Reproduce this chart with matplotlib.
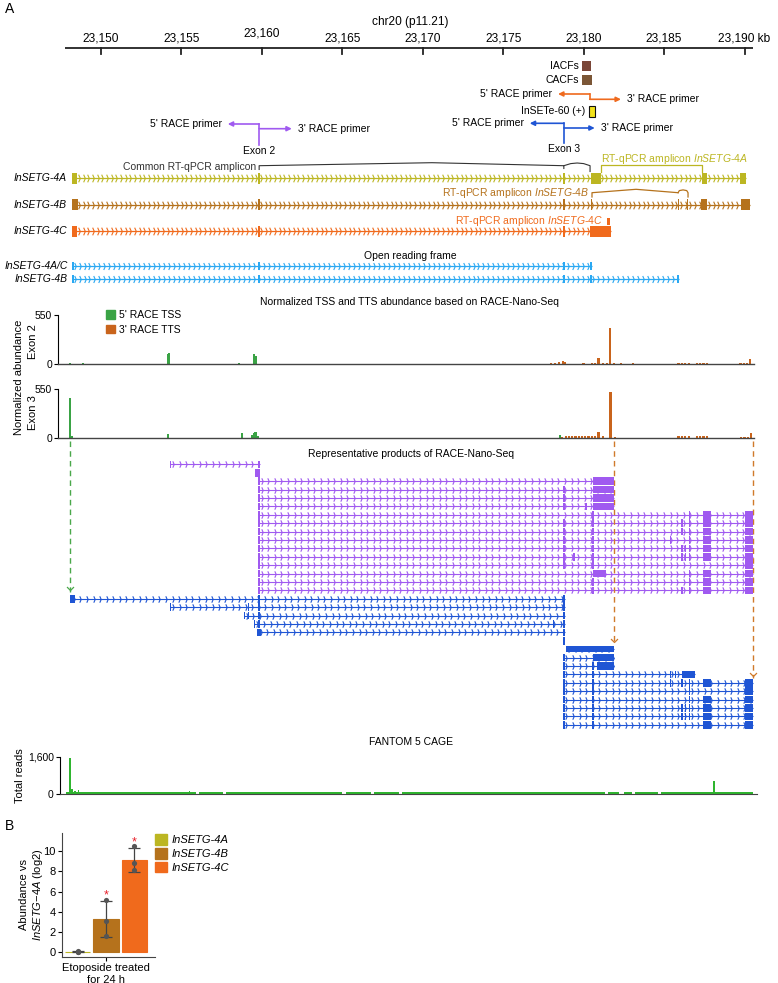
import numpy as np
import matplotlib.pyplot as plt
from matplotlib.path import Path
from matplotlib.patches import Rectangle, Patch

W, H = 778, 983

plt.rcParams.update({
    "font.family": "Liberation Sans",
    "font.size": 7.5,
    "mathtext.fontset": "custom",
    "mathtext.rm": "Liberation Sans",
    "mathtext.it": "Liberation Sans:italic",
    "axes.linewidth": 0.8,
})

# ---------------- data ----------------
kb_ticks = [23150, 23155, 23160, 23165, 23170, 23175, 23180, 23185, 23190]
kb_tick_labels = ["23,150", "23,155", "23,160", "23,165", "23,170", "23,175",
                  "23,180", "23,185", "23,190 kb"]

EX2 = (23159.78, 23159.88)
EX3 = (23178.72, 23178.82)
E4 = (23180.55, 23180.65)
E5a = (23185.37, 23185.45)
E5b = (23186.08, 23186.16)
E5m = (23186.30, 23186.38)
E5c = (23186.53, 23186.61)
E6 = (23187.42, 23187.90)
E7 = (23190.00, 23190.53)

iso_names = ["InSETG-4A", "InSETG-4B", "InSETG-4C"]
iso_4a = [(23148.20, 23148.50), EX2, EX3, (23180.45, 23181.08), (23187.36, 23187.68), (23189.74, 23190.10)]
iso_4b = [(23148.20, 23148.58), EX2, EX3, (23180.45, 23180.55), (23185.84, 23185.92),
          (23186.40, 23186.50), (23187.28, 23187.64), (23189.78, 23190.34)]
iso_4c = [(23148.20, 23148.50), EX2, EX3, (23180.42, 23181.72)]

orf_names = ["InSETG-4A/C", "InSETG-4B"]
orf_4ac = [(23148.20, 23148.30), EX2, EX3, (23180.40, 23180.50)]
orf_4b = [(23148.20, 23148.30), EX2, EX3, (23180.40, 23180.50), (23185.82, 23185.90)]

# primers: exon 2 (purple), exon 3 (blue), InSETe-60 (orange)
primer_x = [23159.83, 23178.77, 23180.38]
primer_5tip = [23157.88, 23176.65, 23178.41]
primer_3tip = [23161.86, 23180.69, 23182.32]

feat_names = ["IACFs", "CACFs", "InSETe-60 (+)"]
feat_start = [23179.92, 23179.92, 23180.32]
feat_end = [23180.46, 23180.52, 23180.71]

P_BIG = (23180.58, 23181.90)
purple_reads = [
    [(23154.28, 23154.36), EX2],
    [(23159.60, 23159.86)],
    [EX2, P_BIG],
    [EX2, EX3, P_BIG],
    [EX2, EX3, P_BIG],
    [EX2, EX3, (23180.10, 23180.22), P_BIG],
    [EX2, E4, E5c, E6, E7],
    [EX2, EX3, E4, E5b, E5c, E6, E7],
    [EX2, EX3, E4, E5b, E5c, E6, E7],
    [EX2, EX3, E4, E5a, E5c, E6, E7],
    [EX2, EX3, E4, E5b, E5m, E5c, E6, E7],
    [EX2, EX3, (23179.33, 23179.47), E4, E5b, E5m, E5c, E6, E7],
    [EX2, EX3, E4, E7],
    [EX2, (23180.58, 23181.40), E5c, E6, E7],
    [EX2, E4, E5c, E6, E7],
    [EX2, E4, E5b, E5c, E6, E7],
]

blue_reads = [
    [(23148.10, 23148.40), EX2, EX3],
    [(23154.28, 23154.34), (23159.15, 23159.22), EX2, EX3],
    [(23158.86, 23158.92), (23159.15, 23159.22), EX2, EX3],
    [(23159.52, 23159.58), EX2, (23178.10, 23178.16), EX3],
    [(23159.72, 23159.95), EX3],
    [EX3],
    [(23178.90, 23181.91)],
    [EX3, (23180.58, 23181.91)],
    [EX3, E4, (23180.83, 23181.91)],
    [EX3, E4, E5a, (23185.68, 23185.76), (23186.11, 23186.95)],
    [EX3, E4, E5a, E5b, E5c, E6, E7],
    [EX3, E4, E5c, E7],
    [EX3, E4, E5c, E6, E7],
    [EX3, E4, E5b, E5m, E5c, E6, E7],
    [EX3, E4, E5b, E5m, E5c, E6, E7],
    [EX3, E4, E6, E7],
]

# normalized abundance (RACE-Nano-Seq)
tss_e2_pos = [23148.07, 23148.88, 23154.15, 23154.25, 23158.58, 23159.50, 23159.60]
tss_e2_val = [8, 6, 110, 125, 12, 110, 90]
tts_e2_pos = [23177.95, 23178.20, 23178.45, 23178.70, 23178.85, 23180.00, 23180.50, 23180.70,
              23180.93, 23181.20, 23181.45, 23181.64, 23181.90, 23182.32, 23183.05, 23185.90,
              23186.10, 23186.30, 23186.55, 23187.05, 23187.25, 23187.45, 23187.65, 23189.75,
              23189.95, 23190.15, 23190.34]
tts_e2_val = [10, 15, 20, 35, 20, 8, 12, 12, 64, 12, 12, 407, 10, 8, 8, 14, 14, 14, 14, 14,
              14, 14, 14, 12, 12, 14, 56]
tss_e3_pos = [23148.07, 23148.22, 23154.18, 23158.75, 23159.37, 23159.50, 23159.60, 23159.76, 23178.53]
tss_e3_val = [455, 15, 37, 49, 30, 55, 68, 25, 30]
tts_e3_pos = [23178.65, 23178.90, 23179.10, 23179.30, 23179.50, 23179.70, 23179.90, 23180.10,
              23180.30, 23180.50, 23180.70, 23180.93, 23181.20, 23181.67, 23181.95, 23185.90,
              23186.10, 23186.30, 23186.55, 23187.05, 23187.25, 23187.45, 23187.65, 23189.80,
              23190.00, 23190.20, 23190.40]
tts_e3_val = [10, 15, 20, 22, 22, 20, 18, 15, 20, 20, 22, 68, 15, 523, 10, 14, 14, 14, 14, 14,
              14, 14, 14, 12, 12, 12, 49]

# FANTOM 5 CAGE
cage_pos = [23148.07, 23148.22, 23148.38, 23148.60, 23148.90, 23152.64, 23155.50, 23158.00,
            23163.10, 23188.10, 23188.22]
cage_val = [1550, 200, 120, 180, 60, 90, 150, 50, 40, 540, 60]
cage_bg_start = [23147.8, 23156.1, 23157.8, 23165.2, 23167.0, 23168.7, 23181.5, 23182.5, 23183.2, 23184.8]
cage_bg_end = [23155.9, 23157.6, 23165.0, 23166.8, 23168.5, 23181.3, 23182.2, 23183.0, 23184.6, 23190.5]
cage_bg_val = [70, 70, 70, 70, 70, 70, 70, 70, 70, 70]

# panel B
b_names = ["InSETG-4A", "InSETG-4B", "InSETG-4C"]
b_reps = [[0.04, -0.03, 0.0], [5.15, 3.10, 1.55], [10.50, 8.83, 8.10]]
b_signif = [False, True, True]

# ---------------- style ----------------
C4A, C4B, C4C = "#bcb622", "#b5721c", "#f06a1c"
PURPLE, BLUE, ORF = "#a05af0", "#1f55d4", "#2aa8f2"
GREEN, TTS, CAGE = "#3aa345", "#c9641c", "#2fb52f"

CHEV = Path([(-0.22, 1), (0.22, 0), (-0.22, -1)], [Path.MOVETO, Path.LINETO, Path.LINETO])


def px2kb(px):
    return 23150 + (px - 101) / 16.0875


def fig_rect(l, t, r, b):
    return [l / W, 1 - b / H, (r - l) / W, (b - t) / H]


fig = plt.figure(figsize=(W / 100, H / 100), dpi=100)
ax = fig.add_axes([0, 0, 1, 1])
ax.set_xlim(px2kb(0), px2kb(W))
ax.set_ylim(H, 0)
ax.axis("off")


def draw_model(y, exons, color, h, step, ms, lw=0.9):
    s = min(e[0] for e in exons)
    t = max(e[1] for e in exons)
    if t - s > 0.3:
        ax.plot([s, t], [y, y], color=color, lw=lw, solid_capstyle="butt", zorder=2)
        marks = np.arange(s + step / 2, t - step / 4, step)
        ax.plot(marks, np.full(len(marks), y), ls="none", marker=CHEV, ms=ms, mew=0.8,
                mfc="none", mec=color, zorder=2)
    for a, b in exons:
        ax.add_patch(Rectangle((a, y - h / 2), max(b - a, 0.07), h, facecolor=color,
                               edgecolor="none", zorder=3))


# panel letters
fig.text(5 / W, 1 - 9 / H, "A", fontsize=10, va="center")
fig.text(5 / W, 1 - 826 / H, "B", fontsize=10, va="center")

# genomic axis
ax.plot([px2kb(65), px2kb(753)], [47.7, 47.7], color="#222", lw=1.3, solid_capstyle="butt")
label_dy = [0, 0, -5, 0, 0, 0, 0, 0, 0]
for t, lab, dy in zip(kb_ticks, kb_tick_labels, label_dy):
    ax.plot([t, t], [47.7, 53.5], color="#222", lw=1.3)
    ax.text(t, 38.5 + dy, lab, ha="center", va="center", fontsize=8.6)
ax.text(px2kb(410), 22.5, "chr20 (p11.21)", ha="center", va="center", fontsize=8.6)

# features
feat_rows = [(61, 71), (75, 85), (106, 117)]
feat_fc = ["#7a4638", "#7b5636", "#f2e21a"]
feat_ec = ["none", "none", "#111"]
for name, a, b, (y0, y1), fc, ec in zip(feat_names, feat_start, feat_end, feat_rows, feat_fc, feat_ec):
    ax.add_patch(Rectangle((a, y0), b - a, y1 - y0, facecolor=fc, edgecolor=ec, lw=0.8))
    ax.text(a - 0.2, (y0 + y1) / 2, name, ha="right", va="center")

# primers
primer_rows = [(124, 128.7, 145), (123.3, 128, 143), (94, 99.3, 99.3)]
primer_cols = [PURPLE, BLUE, "#ef6a1e"]
primer_exon = ["Exon 2", "Exon 3", None]
for x, t5, t3, (y5, y3, yb), c, ex in zip(primer_x, primer_5tip, primer_3tip, primer_rows,
                                           primer_cols, primer_exon):
    ax.plot([x, x], [y5, yb], color=c, lw=1.2)
    ax.annotate("", xy=(t5, y5), xytext=(x, y5),
                arrowprops=dict(arrowstyle="-|>", color=c, lw=1.2, mutation_scale=7,
                                shrinkA=0, shrinkB=0))
    ax.annotate("", xy=(t3, y3), xytext=(x, y3),
                arrowprops=dict(arrowstyle="-|>", color=c, lw=1.2, mutation_scale=7,
                                shrinkA=0, shrinkB=0))
    ax.text(t5 - 0.37, y5, "5' RACE primer", ha="right", va="center")
    ax.text(t3 + 0.37, y3, "3' RACE primer", ha="left", va="center")
    if ex:
        ax.text(x, yb + 6, ex, ha="center", va="center")

# isoforms
iso_y = [178.3, 204.5, 231]
for name, y, exons, c in zip(iso_names, iso_y, [iso_4a, iso_4b, iso_4c], [C4A, C4B, C4C]):
    draw_model(y, exons, c, 11, 0.29, 5.5)
    ax.text(px2kb(67), y, name, ha="right", va="center", style="italic")

# amplicons
gray = "#333"
ax.plot([EX2[0] + 0.05] * 2 + [23170.57, 23178.77, 23178.77], [169.5, 165.7, 162.7, 165.7, 168.5],
        color=gray, lw=0.8)
ax.plot([23178.77, 23179.2, 23179.6, 23180.0, 23180.4, 23180.4], [165.7, 163.6, 163.0, 163.6, 165.7, 171.5],
        color=gray, lw=0.8)
ax.text(px2kb(256), 166.5, "Common RT-qPCR amplicon", ha="right", va="center", color=gray)
ax.plot([23181.08, 23181.08, 23187.36, 23187.36], [171.5, 165.3, 165.3, 171.5], color=C4A, lw=0.9)
ax.text(px2kb(601), 159, r"RT-qPCR amplicon $\mathit{InSETG}$-$\mathit{4A}$", ha="left",
        va="center", color=C4A)
ax.plot([23180.52, 23180.52, 23183.26, 23185.87], [197, 192.7, 189.3, 192.7], color=C4B, lw=0.9)
ax.plot([23185.87, 23185.95, 23186.18, 23186.41, 23186.49, 23186.49],
        [192.7, 190.6, 189.9, 190.6, 192.7, 197], color=C4B, lw=0.9)
ax.text(px2kb(588.5), 193.5, r"RT-qPCR amplicon $\mathit{InSETG}$-$\mathit{4B}$", ha="right",
        va="center", color=C4B)
ax.add_patch(Rectangle((23181.45, 218), 0.19, 7, facecolor=C4C, edgecolor="none"))
ax.text(px2kb(603), 221, r"RT-qPCR amplicon $\mathit{InSETG}$-$\mathit{4C}$", ha="right",
        va="center", color=C4C)

# open reading frame
ax.text(px2kb(410), 255.7, "Open reading frame", ha="center", va="center")
for name, y, exons in zip(orf_names, [266, 279.3], [orf_4ac, orf_4b]):
    draw_model(y, exons, ORF, 8, 0.31, 5.0)
    ax.text(px2kb(67.5), y, name, ha="right", va="center", style="italic")

ax.text(px2kb(410), 302, "Normalized TSS and TTS abundance based on RACE-Nano-Seq",
        ha="center", va="center")

# RACE products
ax.text(px2kb(411), 454, "Representative products of RACE-Nano-Seq", ha="center", va="center")
read_y0, read_dy = 464.3, 8.4
for i, exons in enumerate(purple_reads + blue_reads):
    c = PURPLE if i < len(purple_reads) else BLUE
    h = 6.7 if len(exons) == 1 and exons[0][1] - exons[0][0] > 2 else 7.6
    draw_model(read_y0 + i * read_dy, exons, c, h, 0.41, 4.6, lw=0.8)

# dashed guide arrows (TSS / TTS)
guide_x = [tss_e3_pos[0], 23181.91, 23190.53]
guide_end = [591.5, 643.5, 677.5]
guide_col = ["#4aa84a", "#d07a2a", "#d07a2a"]
VEE = Path([(-1, 1), (0, 0), (1, 1)], [Path.MOVETO, Path.LINETO, Path.LINETO])
for x, ye, c in zip(guide_x, guide_end, guide_col):
    ax.plot([x, x], [441, ye], color=c, lw=1.0, ls=(0, (4, 3)))
    ax.plot([x], [ye - 2], marker=VEE, ms=5, mew=0.9, mec=c, mfc="none", ls="none")

# abundance panels
xl = (px2kb(58.3), px2kb(754))


def track_axes(rect, ymax, ylab):
    a = fig.add_axes(rect)
    a.set_xlim(*xl)
    a.set_ylim(0, ymax)
    a.set_yticks([0, ymax])
    a.set_yticklabels(["0", ylab])
    a.set_xticks([])
    for s in ["top", "right"]:
        a.spines[s].set_visible(False)
    a.spines["bottom"].set_color("#444")
    a.spines["bottom"].set_linewidth(1.0)
    a.tick_params(axis="y", length=3, width=0.8, pad=1.5, labelsize=7.5)
    a.patch.set_alpha(0)
    return a


ab1 = track_axes(fig_rect(58.3, 315, 754, 364), 550, "550")
ab1.bar(tss_e2_pos, tss_e2_val, width=0.14, color=GREEN, lw=0)
ab1.bar(tts_e2_pos, tts_e2_val, width=0.14, color=TTS, lw=0)
ab2 = track_axes(fig_rect(58.3, 389.3, 754, 437.7), 550, "550")
ab2.bar(tss_e3_pos, tss_e3_val, width=0.14, color=GREEN, lw=0)
ab2.bar(tts_e3_pos, tts_e3_val, width=0.14, color=TTS, lw=0)
ab1.legend(handles=[Patch(color=GREEN), Patch(color=TTS)], labels=["5' RACE TSS", "3' RACE TTS"],
           loc="upper left", bbox_to_anchor=(106 / W, 1 - 310 / H), bbox_transform=fig.transFigure,
           frameon=False, handlelength=0.9, handleheight=0.9, handletextpad=0.35,
           labelspacing=0.45, borderaxespad=0, borderpad=0, fontsize=7.5)
fig.text(19 / W, 1 - 377 / H, "Normalized abundance", rotation=90, ha="center", va="center", fontsize=8)
fig.text(33 / W, 1 - 341.7 / H, "Exon 2", rotation=90, ha="center", va="center", fontsize=8)
fig.text(33 / W, 1 - 413 / H, "Exon 3", rotation=90, ha="center", va="center", fontsize=8)

# CAGE panel
ax.text(px2kb(411), 742.3, "FANTOM 5 CAGE", ha="center", va="center")
cg = fig.add_axes(fig_rect(60, 756.7, 757, 794))
cg.set_xlim(px2kb(60), px2kb(757))
cg.set_ylim(0, 1600)
cg.set_yticks([0, 1600])
cg.set_yticklabels(["0", "1,600"])
cg.set_xticks([])
for s in ["top", "right"]:
    cg.spines[s].set_visible(False)
cg.spines["bottom"].set_color("#444")
cg.tick_params(axis="y", length=3, width=0.8, pad=1.5, labelsize=7.5)
cg.patch.set_alpha(0)
cg.bar(cage_bg_start, cage_bg_val, width=np.array(cage_bg_end) - np.array(cage_bg_start),
       align="edge", color=CAGE, lw=0)
cg.bar(cage_pos, cage_val, width=0.12, color=CAGE, lw=0)
fig.text(20 / W, 1 - 776 / H, "Total reads", rotation=90, ha="center", va="center", fontsize=8)

# panel B
bx = fig.add_axes(fig_rect(62, 833.3, 155, 956.7))
b_x = np.arange(1, len(b_names) + 1)
b_mean = np.array([np.mean(r) for r in b_reps])
b_sd = np.array([np.std(r, ddof=1) for r in b_reps])
b_cols = [C4A, C4B, C4C]
bx.bar(b_x, b_mean, width=0.9, color=b_cols, edgecolor=b_cols, lw=0.8)
bx.errorbar(b_x, b_mean, yerr=b_sd, fmt="none", ecolor="#444", elinewidth=0.9, capsize=4,
            capthick=0.9)
for x, reps in zip(b_x, b_reps):
    bx.scatter([x] * len(reps), reps, s=14, color="#555", zorder=4, lw=0)
for x, m, s, sig in zip(b_x, b_mean, b_sd, b_signif):
    if sig:
        bx.text(x, m + s + 0.55, "*", color="#e8202a", ha="center", va="center", fontsize=9)
bx.set_xlim(0.456, 3.72)
bx.set_ylim(-0.48, 11.8)
bx.set_yticks([0, 2, 4, 6, 8, 10])
bx.set_xticks([2])
bx.set_xticklabels(["Etoposide treated\nfor 24 h"])
for s in ["top", "right"]:
    bx.spines[s].set_visible(False)
for s in ["left", "bottom"]:
    bx.spines[s].set_color("#444")
bx.tick_params(length=3, width=0.8, pad=1.5, labelsize=8)
bx.set_ylabel("Abundance vs\n$\\mathit{InSETG}$\u2212$\\mathit{4A}$ (log2)", fontsize=8)
bx.yaxis.set_label_coords(-0.185, 0.5)
bx.legend(handles=[Patch(color=c) for c in b_cols], labels=b_names, loc="upper left",
          bbox_to_anchor=(155 / W, 1 - 834 / H), bbox_transform=fig.transFigure, frameon=False,
          prop=dict(style="italic", size=8), handlelength=1.1, handleheight=1.1,
          handletextpad=0.35, labelspacing=0.25, borderaxespad=0, borderpad=0)

fig.savefig("out.png", dpi=100)
